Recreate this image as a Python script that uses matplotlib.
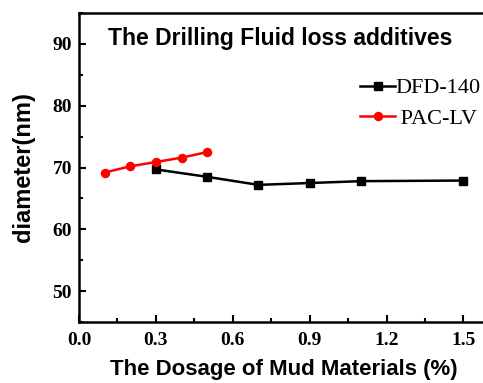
import matplotlib.pyplot as plt
from matplotlib.ticker import MultipleLocator

# data
dfd_dosage = [0.3, 0.5, 0.7, 0.9, 1.1, 1.5]
dfd_diameter = [69.7, 68.5, 67.2, 67.5, 67.8, 67.9]
pac_dosage = [0.1, 0.2, 0.3, 0.4, 0.5]
pac_diameter = [69.2, 70.2, 70.9, 71.6, 72.5]
x_ticks = [0.0, 0.3, 0.6, 0.9, 1.2, 1.5]
y_ticks = [50, 60, 70, 80, 90]

fig = plt.figure(figsize=(4.83, 3.83), dpi=100)
ax = fig.add_axes([0.1636, 0.159, 0.849, 0.807])

ax.plot(dfd_dosage, dfd_diameter, color='black', marker='s', markersize=5.2,
        linewidth=1.8, label='DFD-140')
ax.plot(pac_dosage, pac_diameter, color='red', marker='o', markersize=5.8,
        linewidth=1.8, label=' PAC-LV')

ax.set_xlim(0, 1.6)
ax.set_ylim(45, 95)
ax.set_xticks(x_ticks)
ax.set_yticks(y_ticks)
ax.xaxis.set_minor_locator(MultipleLocator(0.15))
ax.yaxis.set_minor_locator(MultipleLocator(5))
ax.tick_params(which='both', direction='in', width=1.5)
ax.tick_params(which='major', length=5)
ax.tick_params(which='minor', length=3)
for s in ax.spines.values():
    s.set_linewidth(1.8)

for lab in ax.get_xticklabels() + ax.get_yticklabels():
    lab.set_fontfamily('Liberation Serif')
    lab.set_fontweight('bold')
    lab.set_fontsize(14)
ax.tick_params(axis='x', pad=7)
ax.tick_params(axis='y', pad=5)

ax.set_xlabel('The Dosage of Mud Materials (%)', fontfamily='Liberation Sans',
              fontweight='bold', fontsize=16, labelpad=7)
ax.set_ylabel('diameter(nm)', fontfamily='Liberation Sans',
              fontweight='bold', fontsize=17, labelpad=13)

ax.text(0.07, 0.916, 'The Drilling Fluid loss additives', transform=ax.transAxes,
        fontfamily='Liberation Sans', fontweight='bold', fontsize=16.5, va='center')

ax.legend(loc='upper left', bbox_to_anchor=(0.685, 0.79), frameon=False,
          prop={'family': 'Liberation Serif', 'size': 16},
          handlelength=1.6, handletextpad=0.0, labelspacing=0.45,
          borderaxespad=0, borderpad=0)

fig.savefig('out.png', dpi=100)
